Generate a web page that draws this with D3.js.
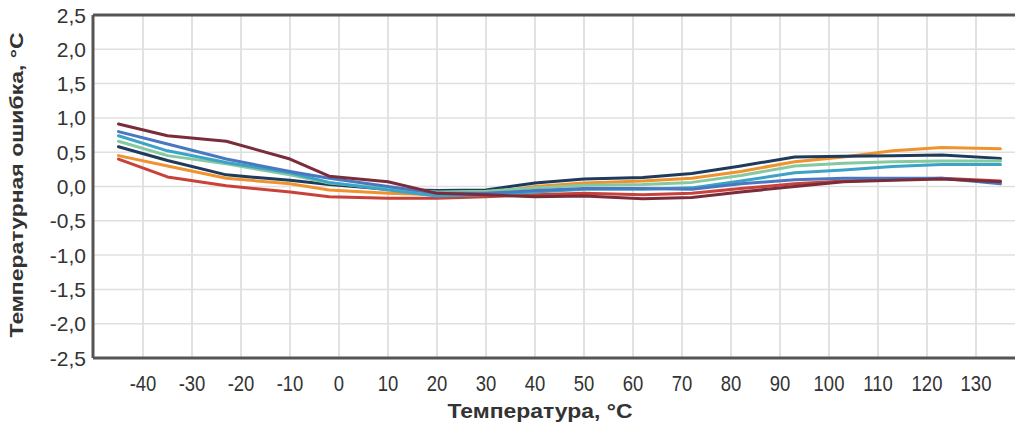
<!DOCTYPE html>
<html><head><meta charset="utf-8">
<script src="https://cdn.jsdelivr.net/npm/d3@7"></script>
<style>
html,body{margin:0;padding:0;background:#fff;}
svg{display:block;}
</style></head>
<body>
<svg id="chart" width="1015" height="428"></svg>
<script>
const temps = [-45,-35,-23,-10,-2,10,20,30,40,50,62,72,82,93,103,113,123,135];
const xTicks = [-40,-30,-20,-10,0,10,20,30,40,50,60,70,80,90,100,110,120,130];
const yTicks = [-2.5,-2.0,-1.5,-1.0,-0.5,0,0.5,1.0,1.5,2.0,2.5];
const seriesNames = ["s1","s2","s3","s4","s5","s6","s7"];
const seriesColors = ["#7b2c3a","#4a78c0","#3aa3c6","#86c9a0","#1f3b5c","#f0922e","#c8423a"];
const s1 = [0.91,0.74,0.66,0.40,0.15,0.07,-0.10,-0.12,-0.15,-0.14,-0.18,-0.16,-0.08,0.00,0.07,0.09,0.11,0.07];
const s2 = [0.80,0.62,0.40,0.22,0.12,0.00,-0.10,-0.10,-0.06,-0.03,-0.03,-0.04,0.04,0.10,0.12,0.12,0.12,0.04];
const s3 = [0.74,0.52,0.35,0.20,0.06,-0.05,-0.14,-0.12,-0.08,-0.04,-0.04,-0.02,0.08,0.20,0.24,0.29,0.32,0.32];
const s4 = [0.66,0.45,0.33,0.17,0.05,-0.03,-0.08,-0.07,-0.02,0.02,0.03,0.06,0.16,0.30,0.34,0.36,0.37,0.37];
const s5 = [0.58,0.38,0.17,0.09,0.03,-0.04,-0.06,-0.05,0.05,0.11,0.13,0.19,0.30,0.43,0.44,0.45,0.46,0.41];
const s6 = [0.45,0.30,0.12,0.04,-0.05,-0.10,-0.12,-0.10,0.00,0.05,0.08,0.12,0.22,0.36,0.43,0.52,0.57,0.55];
const s7 = [0.40,0.14,0.01,-0.08,-0.15,-0.17,-0.17,-0.15,-0.12,-0.10,-0.12,-0.10,-0.03,0.04,0.08,0.10,0.12,0.08];
const allSeries = [s1,s2,s3,s4,s5,s6,s7];

const svg = d3.select("#chart");
const pLeft = 93, pTop = 15, pBottom = 358, pRight = 1030;
const x = d3.scaleLinear().domain([-40,130]).range([143,976]);
const y = d3.scaleLinear().domain([-2.5,2.5]).range([pBottom, pTop]);

// grid
svg.append("g").selectAll("line").data(xTicks).join("line")
  .attr("x1", d=>x(d)).attr("x2", d=>x(d)).attr("y1", pTop).attr("y2", pBottom)
  .attr("stroke", "#d8d8d8").attr("stroke-width", 1.5);
svg.append("g").selectAll("line").data(yTicks).join("line")
  .attr("x1", pLeft).attr("x2", pRight).attr("y1", d=>y(d)).attr("y2", d=>y(d))
  .attr("stroke", "#e0e0e0").attr("stroke-width", 1.5);

// lines
const line = d3.line().x((d,i)=>x(temps[i])).y(d=>y(d)).curve(d3.curveLinear);
const order = [6,5,4,3,2,1,0];
svg.append("g").selectAll("path").data(order).join("path")
  .attr("d", i=>line(allSeries[i]))
  .attr("fill","none").attr("stroke", i=>seriesColors[i])
  .attr("stroke-width", 3).attr("stroke-linejoin","round").attr("stroke-linecap","round");

// frame
svg.append("line").attr("x1",pLeft).attr("x2",pRight).attr("y1",pTop).attr("y2",pTop).attr("stroke","#555").attr("stroke-width",3);
svg.append("line").attr("x1",pLeft).attr("x2",pRight).attr("y1",pBottom).attr("y2",pBottom).attr("stroke","#555").attr("stroke-width",3);
svg.append("line").attr("x1",pLeft).attr("x2",pLeft).attr("y1",pTop).attr("y2",pBottom).attr("stroke","#555").attr("stroke-width",3);

// y ticks
const fmt = d => d3.format(".1f")(d).replace(".", ",").replace("−","-");
svg.append("g").selectAll("text").data(yTicks).join("text")
  .attr("x", 86).attr("y", d=>y(d)).attr("dy","0.36em")
  .attr("text-anchor","end").attr("font-family","Liberation Sans, Arial, sans-serif")
  .attr("font-size", 21).attr("fill","#333").text(fmt);

// x ticks
svg.append("g").selectAll("text").data(xTicks).join("text")
  .attr("transform", d=>`translate(${x(d)},391) scale(0.84,1)`)
  .attr("text-anchor","middle").attr("font-family","Liberation Sans, Arial, sans-serif")
  .attr("font-size", 22).attr("fill","#333").text(d=>d);

// titles
svg.append("text").attr("x", 540).attr("y", 418).attr("text-anchor","middle")
  .attr("font-family","Liberation Sans, Arial, sans-serif")
  .attr("textLength",185).attr("lengthAdjust","spacingAndGlyphs")
  .attr("font-weight","bold").attr("font-size",21).attr("fill","#333").text("Температура, °C");
svg.append("text").attr("transform","translate(23,185) rotate(-90)").attr("text-anchor","middle")
  .attr("font-family","Liberation Sans, Arial, sans-serif")
  .attr("textLength",305).attr("lengthAdjust","spacingAndGlyphs")
  .attr("font-weight","bold").attr("font-size",19).attr("fill","#333").text("Температурная ошибка, °C");
</script>
</body></html>
